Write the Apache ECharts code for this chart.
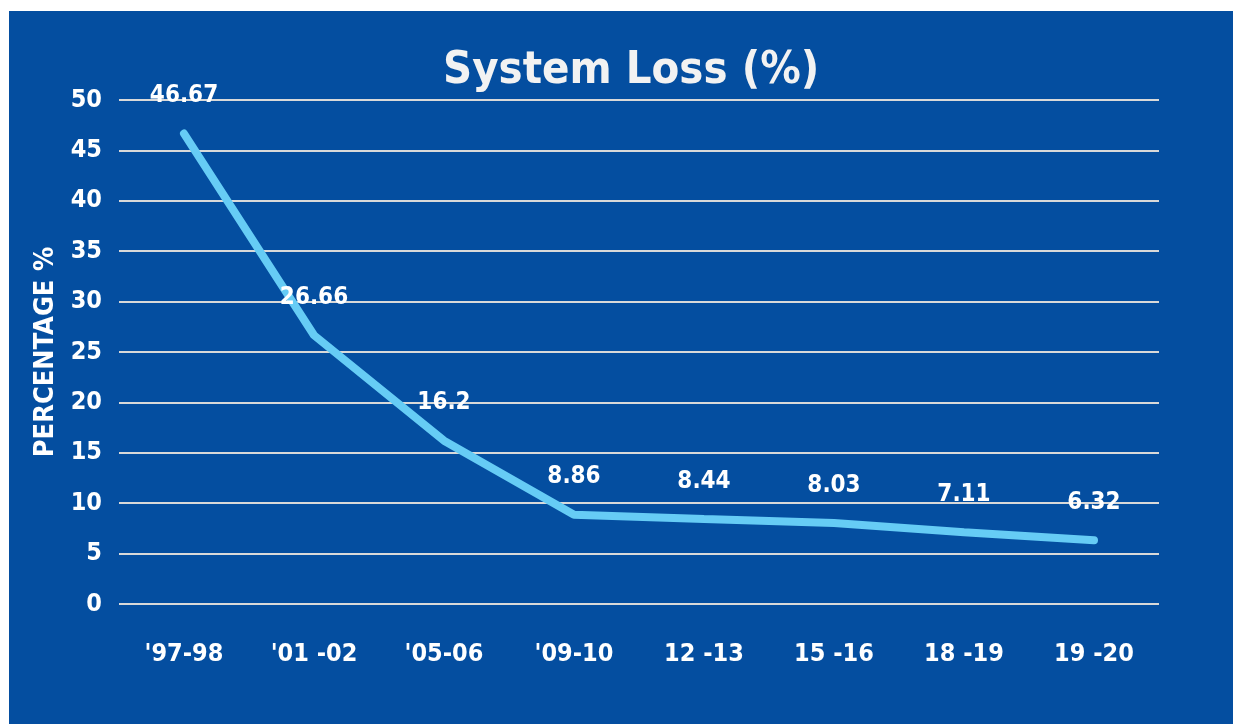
<!DOCTYPE html>
<html>
<head>
<meta charset="utf-8">
<script src="https://cdn.jsdelivr.net/npm/echarts@6/dist/echarts.min.js"></script>
<style>
  html, body { margin: 0; padding: 0; background: #ffffff; width: 1233px; height: 724px; overflow: hidden; }
  #chart { position: absolute; left: 9px; top: 11px; width: 1224px; height: 713px; background: #044ea0; }
</style>
</head>
<body>
<div id="chart"></div>
<script>
// Fiscal-year periods and distribution system loss (%)
const periods = ["'97-98", "'01 -02", "'05-06", "'09-10", "12 -13", "15 -16", "18 -19", "19 -20"];
const systemLoss = [46.67, 26.66, 16.2, 8.86, 8.44, 8.03, 7.11, 6.32];
const yTicks = { min: 0, max: 50, step: 5 };

const FONT = '"DejaVu Sans Condensed", "Liberation Sans Narrow", "Roboto", sans-serif';

const chart = echarts.init(document.getElementById('chart'));
chart.setOption({
  backgroundColor: '#044ea0',
  animation: false,
  title: {
    text: 'System Loss (%)',
    left: 429,
    top: 33,
    textStyle: {
      color: '#f2f2f2',
      fontFamily: FONT,
      fontWeight: 'bold',
      fontSize: 45
    }
  },
  grid: { left: 110, right: 74, top: 89, bottom: 120 },
  xAxis: {
    type: 'category',
    data: periods,
    boundaryGap: true,
    axisLine: { show: false },
    axisTick: { show: false },
    axisLabel: {
      color: '#ffffff',
      fontFamily: FONT,
      fontWeight: 'bold',
      fontSize: 25,
      margin: 38
    }
  },
  yAxis: {
    type: 'value',
    min: yTicks.min,
    max: yTicks.max,
    interval: yTicks.step,
    name: 'PERCENTAGE %',
    nameLocation: 'middle',
    nameGap: 60,
    nameTextStyle: {
      color: '#ffffff',
      fontFamily: FONT,
      fontWeight: 'bold',
      fontSize: 27
    },
    axisLine: { show: false },
    axisTick: { show: false },
    axisLabel: {
      color: '#ffffff',
      fontFamily: FONT,
      fontWeight: 'bold',
      fontSize: 25,
      margin: 17
    },
    splitLine: { lineStyle: { color: '#d9d9d9', width: 2 } }
  },
  series: [{
    type: 'line',
    data: systemLoss,
    symbol: 'circle',
    symbolSize: 1,
    itemStyle: { color: 'rgba(0,0,0,0)' },
    lineStyle: { color: '#66ccf5', width: 8, cap: 'round', join: 'bevel' },
    label: {
      show: true,
      position: 'top',
      distance: 25,
      color: '#ffffff',
      fontFamily: FONT,
      fontWeight: 'bold',
      fontSize: 24
    }
  }]
});
</script>
</body>
</html>
